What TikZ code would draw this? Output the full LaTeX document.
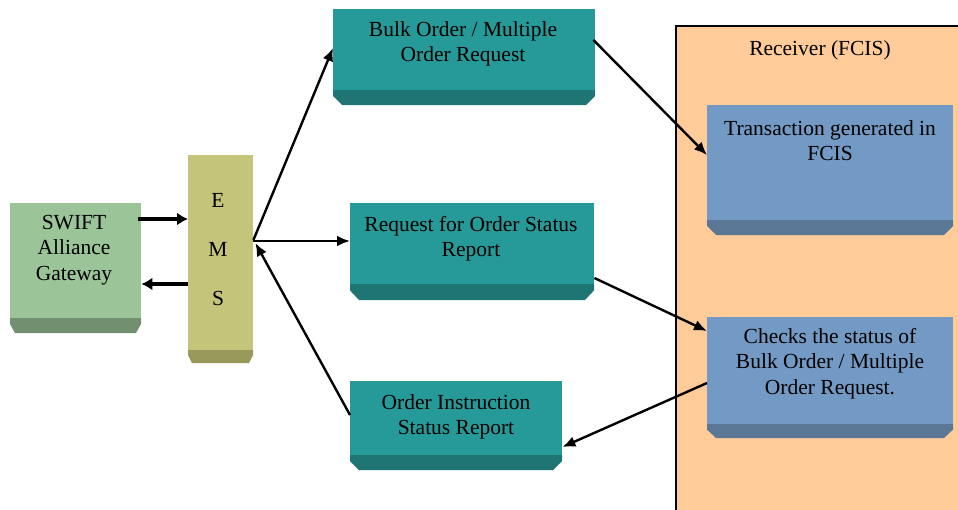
\documentclass[tikz,border=0pt]{standalone}
\usepackage{fontspec}
\setmainfont{Liberation Serif}
\usetikzlibrary{arrows.meta,calc}
\definecolor{gfront}{RGB}{155,196,153}
\definecolor{gshade}{RGB}{114,144,112}
\definecolor{yfront}{RGB}{196,196,122}
\definecolor{yshade}{RGB}{153,153,92}
\definecolor{tfront}{RGB}{38,154,152}
\definecolor{tshade}{RGB}{30,117,116}
\definecolor{bfront}{RGB}{115,154,196}
\definecolor{bshade}{RGB}{90,120,150}
\definecolor{peach}{RGB}{255,204,153}
\newcommand\mkbox[9]{%
  \fill[#8] (#2,#5) -- (#2,{#5+0.4*(#6-#5)}) -- ({#2+#9},#6) -- ({#4-#9},#6) -- (#4,{#5+0.4*(#6-#5)}) -- (#4,#5) -- cycle;
  \node[fill=#7, draw=none, inner sep=0, minimum width={#4-#2}, minimum height={#5-#3}, anchor=north west] (#1) at (#2,#3) {};
}
\begin{document}
\begin{tikzpicture}[x=1pt,y=-1pt,
  txt/.style={anchor=north, inner sep=0, align=center, font=\fontsize{21.5}{25.5}\selectfont},
  arr/.style={line width=2.4pt, -{Latex[length=13pt,width=11pt]}},
  fat/.style={line width=4pt, -{Latex[length=11pt,width=13pt]}}]
\clip (0,0) rectangle (958,509);
\useasboundingbox (0,0) rectangle (958,509);
% receiver area
\node[fill=peach, draw=black, line width=1.8pt, inner sep=0, minimum width=300, minimum height=500, anchor=north west] (recv) at (675,25) {};
\node[txt] (recvt) at (820,40) {Receiver (FCIS)};
% boxes
\mkbox{swift}{10}{203}{141}{318}{333}{gfront}{gshade}{5}
\mkbox{ems}{188}{155}{253}{350}{363}{yfront}{yshade}{4}
\mkbox{bulk}{333}{9}{595}{90}{105}{tfront}{tshade}{9}
\mkbox{req}{350}{203}{594}{284}{300}{tfront}{tshade}{9}
\mkbox{oi}{350}{381}{562}{455}{470}{tfront}{tshade}{9}
\mkbox{trans}{707}{105}{953}{220}{235}{bfront}{bshade}{9}
\mkbox{chk}{707}{317}{953}{424}{438}{bfront}{bshade}{9}
% texts
\node[txt] (swiftt) at (74,215) {SWIFT\\Alliance\\Gateway};
\node[txt, font=\fontsize{21.5}{49}\selectfont] (emst) at (218,193) {E\\M\\S};
\node[txt] (bulkt) at (463,21) {Bulk Order / Multiple\\Order Request};
\node[txt] (reqt) at (471,216) {Request for Order Status\\Report};
\node[txt] (oit) at (456,394) {Order Instruction\\Status Report};
\node[txt] (transt) at (830,120) {Transaction generated in\\FCIS};
\node[txt] (chkt) at (830,328) {Checks the status of\\Bulk Order / Multiple\\Order Request.};
% connectors
\draw[fat] ([xshift=-3pt]swift.east |- 0,219) -- (ems.west |- 0,219);
\draw[fat] (ems.west |- 0,284) -- (swift.east |- 0,284);
\draw[arr] (ems.east |- 0,240) -- (bulk.west |- 0,48);
\draw[arr] (ems.east |- 0,241) -- (req.west |- 0,241);
\draw[arr] (oi.west |- 0,415) -- ([xshift=2pt]ems.east |- 0,243);
\draw[arr] ([xshift=-2pt]bulk.east |- 0,40) -- (trans.west |- 0,155);
\draw[arr] (req.east |- 0,278) -- (chk.west |- 0,331);
\draw[arr] (chk.west |- 0,383) -- (oi.east |- 0,447);
\end{tikzpicture}
\end{document}
